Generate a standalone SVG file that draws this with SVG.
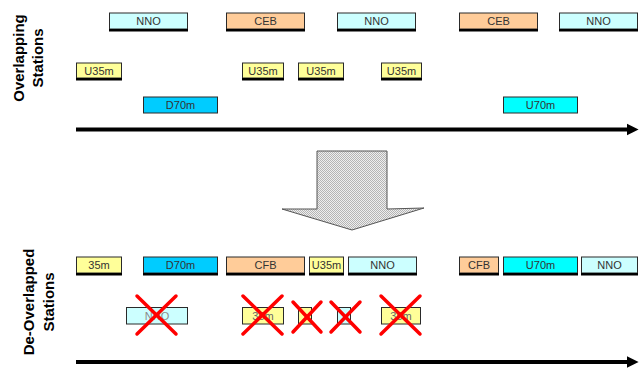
<svg xmlns="http://www.w3.org/2000/svg" width="639" height="369" viewBox="0 0 639 369">
<style>
.b{stroke:#2a2a2a;stroke-width:1}
.sh{fill:#000}
.t{font-family:"Liberation Sans",Arial,sans-serif;font-size:11px;fill:#333;text-anchor:middle}
.tf{font-family:"Liberation Sans",Arial,sans-serif;font-size:11px;fill:#8a8a8a;text-anchor:middle}
.nno{fill:#ccffff}.ceb{fill:#ffcc99}.u35{fill:#ffff99}.d70{fill:#00ccff}.u70{fill:#00ffff}
.lbl{font-family:"Liberation Sans",Arial,sans-serif;font-size:15px;font-weight:bold;fill:#000;text-anchor:middle}
.x{stroke:#ff0000;stroke-width:3.5;stroke-linecap:round}
.ax{stroke:#000;stroke-width:4;fill:none}
</style>
<defs>
<pattern id="dith" width="2" height="2" patternUnits="userSpaceOnUse">
<rect width="2" height="2" fill="#eeeeee"/>
<rect width="1" height="1" fill="#b4b4b4"/>
<rect x="1" y="1" width="1" height="1" fill="#b4b4b4"/>
</pattern>
<marker id="ah" viewBox="0 0 10 10" refX="2" refY="5" markerWidth="3" markerHeight="3.5" orient="auto" markerUnits="strokeWidth">
<path d="M0,0 L10,5 L0,10 z" fill="#000"/>
</marker>
</defs>

<text class="lbl" transform="translate(24,58) rotate(-90)">Overlapping</text>
<text class="lbl" transform="translate(43,58) rotate(-90)">Stations</text>
<text class="lbl" transform="translate(33.5,302) rotate(-90)">De-Overlapped</text>
<text class="lbl" transform="translate(54,302) rotate(-90)">Stations</text>

<g id="connectors">
<line class="ax" x1="76" y1="129.5" x2="629" y2="129.5" marker-end="url(#ah)"/>
<line class="ax" x1="76" y1="362" x2="629" y2="362" marker-end="url(#ah)"/>
</g>

<g id="bigarrow">
<path d="M317,151 L387,151 L387,209 L424,208 L352,230 L282,209 L317,209 Z" fill="url(#dith)" stroke="#555" stroke-width="1"/>
</g>

<!-- Overlapping row 1 -->
<g id="o-nno1"><rect class="nno b" x="109.5" y="13" width="78" height="16"/><rect class="sh" x="109" y="29" width="79" height="2.5"/><text class="t" x="148.5" y="25">NNO</text></g>
<g id="o-ceb1"><rect class="ceb b" x="226.5" y="13" width="78" height="16"/><rect class="sh" x="226" y="29" width="79" height="2.5"/><text class="t" x="265.5" y="25">CEB</text></g>
<g id="o-nno2"><rect class="nno b" x="337.5" y="13" width="78" height="16"/><rect class="sh" x="337" y="29" width="79" height="2.5"/><text class="t" x="376.5" y="25">NNO</text></g>
<g id="o-ceb2"><rect class="ceb b" x="459.5" y="13" width="78" height="16"/><rect class="sh" x="459" y="29" width="79" height="2.5"/><text class="t" x="498.5" y="25">CEB</text></g>
<g id="o-nno3"><rect class="nno b" x="559.5" y="13" width="78" height="16"/><rect class="sh" x="559" y="29" width="79" height="2.5"/><text class="t" x="598.5" y="25">NNO</text></g>

<!-- Overlapping row 2 -->
<g id="o-u35a"><rect class="u35 b" x="76.5" y="63" width="45" height="15"/><rect class="sh" x="76" y="78" width="46" height="2.5"/><text class="t" x="99" y="74.5">U35m</text></g>
<g id="o-u35b"><rect class="u35 b" x="242.5" y="63" width="41" height="15"/><rect class="sh" x="242" y="78" width="42" height="2.5"/><text class="t" x="263" y="74.5">U35m</text></g>
<g id="o-u35c"><rect class="u35 b" x="298.5" y="63" width="45" height="15"/><rect class="sh" x="298" y="78" width="46" height="2.5"/><text class="t" x="321" y="74.5">U35m</text></g>
<g id="o-u35d"><rect class="u35 b" x="381.5" y="63" width="40" height="15"/><rect class="sh" x="381" y="78" width="41" height="2.5"/><text class="t" x="401.5" y="74.5">U35m</text></g>

<!-- Overlapping row 3 -->
<g id="o-d70"><rect class="d70 b" x="143.5" y="97" width="74" height="16"/><text class="t" x="180.5" y="109">D70m</text></g>
<g id="o-u70"><rect class="u70 b" x="503.5" y="97" width="74" height="16"/><text class="t" x="540.5" y="109">U70m</text></g>

<!-- De-overlapped row -->
<g id="d-35"><rect class="u35 b" x="76.5" y="257" width="45" height="16"/><rect class="sh" x="76" y="273" width="46" height="2.5"/><text class="t" x="99" y="269">35m</text></g>
<g id="d-d70"><rect class="d70 b" x="143.5" y="257" width="74" height="16"/><rect class="sh" x="143" y="273" width="75" height="2.5"/><text class="t" x="180.5" y="269">D70m</text></g>
<g id="d-cfb1"><rect class="ceb b" x="226.5" y="257" width="78" height="16"/><rect class="sh" x="226" y="273" width="79" height="2.5"/><text class="t" x="265.5" y="269">CFB</text></g>
<g id="d-u35"><rect class="u35 b" x="309.5" y="257" width="34" height="16"/><rect class="sh" x="309" y="273" width="35" height="2.5"/><text class="t" x="326.5" y="269">U35m</text></g>
<g id="d-nno1"><rect class="nno b" x="348.5" y="257" width="68" height="16"/><rect class="sh" x="348" y="273" width="69" height="2.5"/><text class="t" x="382.5" y="269">NNO</text></g>
<g id="d-cfb2"><rect class="ceb b" x="459.5" y="257" width="39" height="16"/><rect class="sh" x="459" y="273" width="40" height="2.5"/><text class="t" x="479" y="269">CFB</text></g>
<g id="d-u70"><rect class="u70 b" x="503.5" y="257" width="74" height="16"/><rect class="sh" x="503" y="273" width="75" height="2.5"/><text class="t" x="540.5" y="269">U70m</text></g>
<g id="d-nno2"><rect class="nno b" x="581.5" y="257" width="56" height="16"/><rect class="sh" x="581" y="273" width="57" height="2.5"/><text class="t" x="609.5" y="269">NNO</text></g>

<!-- Removed (crossed) stations -->
<g id="r-nno"><rect class="nno b" x="126.5" y="307.5" width="61" height="16.5"/><text class="tf" x="157" y="320">NNO</text>
<line class="x" x1="137" y1="296" x2="176" y2="334"/><line class="x" x1="176" y1="296" x2="137" y2="334"/></g>
<g id="r-35a"><rect class="u35 b" x="242.5" y="307.5" width="41" height="16.5"/><text class="tf" x="263" y="320" style="fill:#666">35m</text>
<line class="x" x1="243" y1="296" x2="282" y2="334"/><line class="x" x1="282" y1="296" x2="243" y2="334"/></g>
<g id="r-u35"><rect class="u35 b" x="298.5" y="307.5" width="13" height="16.5"/>
<line class="x" x1="293" y1="302" x2="321" y2="332"/><line class="x" x1="321" y1="302" x2="293" y2="332"/></g>
<g id="r-nno2"><rect class="nno b" x="337.5" y="307.5" width="13" height="16.5"/>
<line class="x" x1="331" y1="302" x2="360" y2="332"/><line class="x" x1="360" y1="302" x2="331" y2="332"/></g>
<g id="r-35b"><rect class="u35 b" x="381.5" y="307.5" width="39" height="16.5"/><text class="tf" x="401" y="320" style="fill:#666">35m</text>
<line class="x" x1="381" y1="296" x2="420" y2="334"/><line class="x" x1="420" y1="296" x2="381" y2="334"/></g>
</svg>
